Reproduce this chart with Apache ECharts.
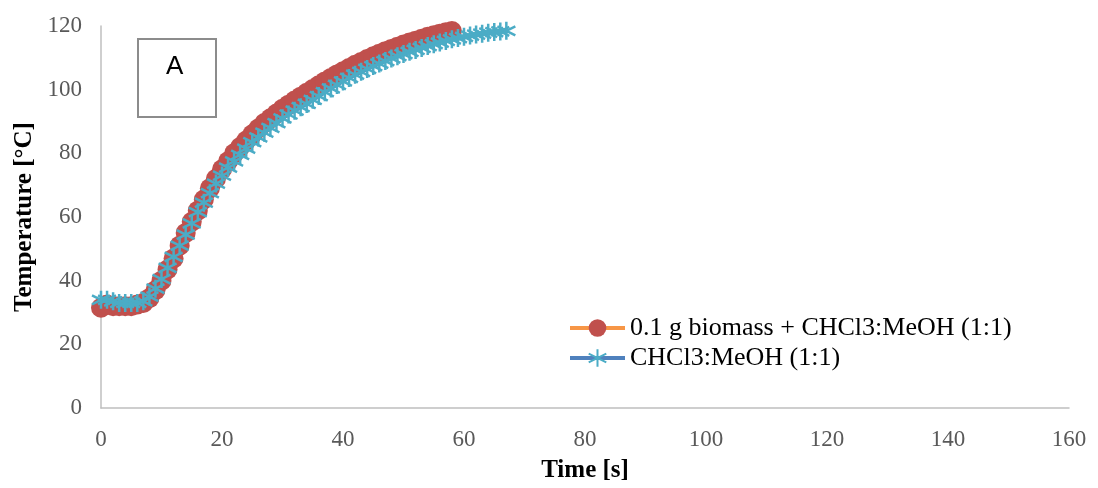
<!DOCTYPE html>
<html>
<head>
<meta charset="utf-8">
<script src="https://cdn.jsdelivr.net/npm/echarts@6/dist/echarts.min.js"></script>
<style>
html,body{margin:0;padding:0;background:#fff;}
#chart{width:1098px;height:488px;}
</style>
</head>
<body>
<div id="chart"></div>
<script>
// Data (time in s, temperature in °C)
const timeBiomass = [0,1,2,3,4,5,6,7,8,9,10,11,12,13,14,15,16,17,18,19,20,21,22,23,24,25,26,27,28,29,30,31,32,33,34,35,36,37,38,39,40,41,42,43,44,45,46,47,48,49,50,51,52,53,54,55,56,57,58];
const tempBiomass = [31.5,32.5,32,32,32,32,32.5,33,34.5,37,40,43.5,47,51,55,58.5,62,65.5,69,72,75,77.5,80,82,84,86,87.8,89.5,91,92.5,94,95.3,96.6,97.8,99,100.2,101.4,102.6,103.7,104.8,105.8,106.8,107.8,108.7,109.6,110.5,111.3,112.1,112.8,113.5,114.2,114.8,115.4,116,116.6,117.1,117.6,118,118.4];
const timeSolvent = [0,1,2,3,4,5,6,7,8,9,10,11,12,13,14,15,16,17,18,19,20,21,22,23,24,25,26,27,28,29,30,31,32,33,34,35,36,37,38,39,40,41,42,43,44,45,46,47,48,49,50,51,52,53,54,55,56,57,58,59,60,61,62,63,64,65,66,67];
const tempSolvent = [34,34,33.5,33,33,33,33,33.5,35,37.5,40.5,44,47.5,51,54.5,58,61.5,64.5,67.5,70.5,73,75.5,77.5,79.5,81.5,83.5,85,86.5,88,89.5,91,92.2,93.4,94.5,95.5,96.8,98,99.2,100.4,101.5,102.6,103.7,104.7,105.6,106.5,107.4,108.2,109,109.8,110.5,111.2,111.9,112.5,113.1,113.7,114.3,114.8,115.3,115.8,116.2,116.6,117,117.3,117.6,117.9,118.1,118.3,118.5];
const seriesNames = ['0.1 g biomass + CHCl3:MeOH (1:1)', 'CHCl3:MeOH (1:1)'];
const xTitle = 'Time [s]';
const yTitle = 'Temperature [°C]';
const panelLabel = 'A';

const pairs = (xs, ys) => xs.map((x, i) => [x, ys[i]]);
const asterisk = 'path://M8,0 L8,16 M1.1,4 L14.9,12 M1.1,12 L14.9,4';

const chart = echarts.init(document.getElementById('chart'), null, {renderer: 'canvas'});
const serif = '"Liberation Serif", "Times New Roman", serif';
chart.setOption({
  animation: false,
  backgroundColor: '#ffffff',
  grid: {left: 101, top: 26, right: 29, bottom: 69, containLabel: false},
  xAxis: {
    type: 'value', min: 0, max: 160, interval: 20,
    name: xTitle, nameLocation: 'middle', nameGap: 50,
    nameTextStyle: {fontFamily: serif, fontSize: 25, fontWeight: 'bold', color: '#000'},
    axisLine: {show: true, lineStyle: {color: '#BFBFBF', width: 1.5}},
    axisTick: {show: false},
    splitLine: {show: false},
    axisLabel: {fontFamily: serif, fontSize: 23, color: '#595959', margin: 20}
  },
  yAxis: {
    type: 'value', min: 0, max: 120, interval: 20,
    name: yTitle, nameLocation: 'middle', nameGap: 62, nameRotate: 90,
    nameTextStyle: {fontFamily: serif, fontSize: 25, fontWeight: 'bold', color: '#000'},
    axisLine: {show: true, lineStyle: {color: '#BFBFBF', width: 1.5}},
    axisTick: {show: false},
    splitLine: {show: false},
    axisLabel: {fontFamily: serif, fontSize: 23, color: '#595959', margin: 19}
  },
  legend: {
    orient: 'vertical', left: 563, top: 310,
    itemWidth: 55, itemHeight: 22, itemGap: 4,
    lineStyle: {width: 4},
    textStyle: {fontFamily: serif, fontSize: 26, color: '#000'},
    data: seriesNames
  },
  graphic: [{
    type: 'rect', left: 137, top: 38,
    shape: {width: 78, height: 78},
    style: {fill: '#fff', stroke: '#8C8C8C', lineWidth: 2}
  }, {
    type: 'text', left: 166, top: 54,
    style: {text: panelLabel, font: '26px "Liberation Sans", Arial, sans-serif', fill: '#000'}
  }],
  series: [{
    name: seriesNames[0], type: 'line', data: pairs(timeBiomass, tempBiomass),
    symbol: 'circle', symbolSize: 20, showAllSymbol: true,
    lineStyle: {color: '#F79646', width: 4},
    itemStyle: {color: '#C0504D', borderColor: '#C0504D', borderWidth: 0}
  }, {
    name: seriesNames[1], type: 'line', data: pairs(timeSolvent, tempSolvent),
    symbol: asterisk, symbolSize: 18, showAllSymbol: true,
    lineStyle: {color: '#4F81BD', width: 4},
    itemStyle: {color: '#4BACC6', borderColor: '#4BACC6', borderWidth: 2.5}
  }]
});
</script>
</body>
</html>
